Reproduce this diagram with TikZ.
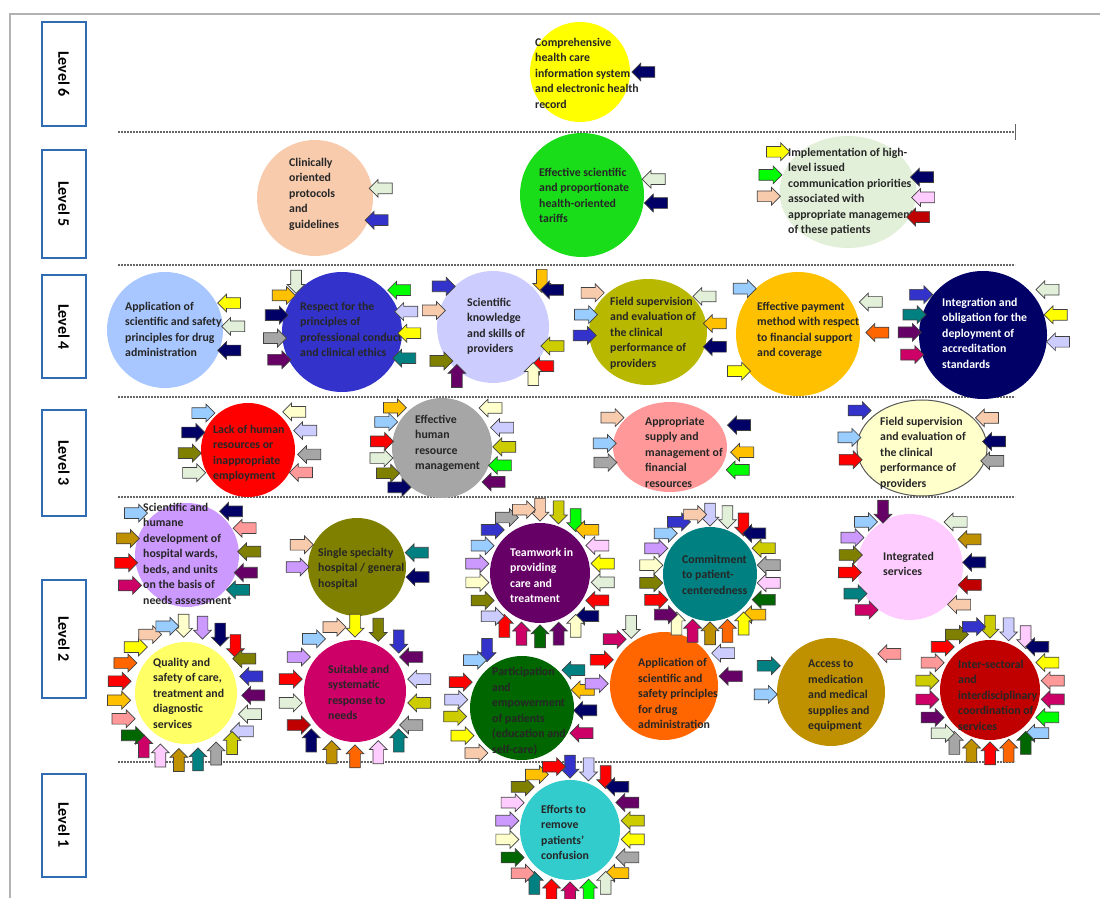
\documentclass[tikz,border=0pt]{standalone}
\usepackage{fontspec}
\setmainfont{Carlito}
\usetikzlibrary{calc,shapes.arrows,shapes.geometric}
% palette
\definecolor{pYel}{HTML}{FFFF00}\definecolor{pGold}{HTML}{FFC000}
\definecolor{pOrange}{HTML}{FF6600}\definecolor{pRed}{HTML}{FF0000}
\definecolor{pDRed}{HTML}{C00000}\definecolor{pNavy}{HTML}{000066}
\definecolor{pBlue}{HTML}{3333CC}\definecolor{pLBlue}{HTML}{99CCFF}
\definecolor{pLav}{HTML}{CCCCFF}\definecolor{pPurple}{HTML}{660066}
\definecolor{pLilac}{HTML}{CC99FF}\definecolor{pPink}{HTML}{FF9999}
\definecolor{pLPink}{HTML}{FFCCFF}\definecolor{pMag}{HTML}{CC0066}
\definecolor{pTeal}{HTML}{008080}\definecolor{pGreen}{HTML}{00FF00}
\definecolor{pDGreen}{HTML}{006600}\definecolor{pOlive}{HTML}{808000}
\definecolor{pOlYel}{HTML}{CCCC00}\definecolor{pGray}{HTML}{A6A6A6}
\definecolor{pPale}{HTML}{E2F0D9}\definecolor{pCream}{HTML}{FFFFCC}
\definecolor{pPeach}{HTML}{F8CBAD}\definecolor{pBrown}{HTML}{BF9000}
\definecolor{lvlblue}{HTML}{2E6DB4}
\tikzset{
  lvl/.style={draw=lvlblue, line width=2pt, rotate=-90, minimum height=44pt, inner sep=0pt, font=\bfseries\fontsize{16}{18}\selectfont},
  bub/.style={circle, inner sep=0pt},
  ebub/.style={ellipse, inner sep=0pt},
  txt/.style={anchor=north west, inner sep=0pt, align=left, text=black!85, font=\bfseries\fontsize{11.8}{15.5}\selectfont},
  blk/.style={single arrow, draw=black!75, line width=0.7pt, inner sep=5pt, minimum height=23pt, single arrow head extend=3.5pt},
  sep/.style={black!60, line width=1.6pt, dash pattern=on 2pt off 1pt}
}
% arrows at angle/distance/colour round a bubble
\newcommand{\arrs}[2]{\foreach \angl/\rr/\col [count=\nn] in {#2}{%
  \pgfmathsetmacro{\dirn}{\angl+180}%
  \node[blk, fill=\col, shape border rotate=\dirn] (#1-\nn) at ($(#1)+(\angl:\rr)$) {};}}
% full ring: bubble, distance, start angle, step, colours
\newcommand{\ring}[5]{\foreach \col [count=\nn] in {#5}{%
  \pgfmathsetmacro{\angl}{#3-(\nn-1)*#4}\pgfmathsetmacro{\dirn}{\angl+180}%
  \node[blk, fill=\col, shape border rotate=\dirn] (#1-\nn) at ($(#1)+(\angl:#2)$) {};}}
\begin{document}
\begin{tikzpicture}[x=1pt,y=1pt]
\useasboundingbox (0,0) rectangle (1100,898);
\draw[gray!60, line width=1.2pt] (10,0) coordinate (fb) -- (10,884) coordinate (ft) -- (1100,884) coordinate (fr);

% levels
\node[lvl, minimum width=104pt] (lv6) at (64,824) {Level 6};
\node[lvl, minimum width=108pt] (lv5) at (64,694) {Level 5};
\node[lvl, minimum width=103pt] (lv4) at (64,571) {Level 4};
\node[lvl, minimum width=105pt] (lv3) at (64,435) {Level 3};
\node[lvl, minimum width=118pt] (lv2) at (64,259) {Level 2};
\node[lvl, minimum width=103pt] (lv1) at (64,73) {Level 1};
\foreach \yy [count=\nn] in {766,633,501,401,136}
  \draw[sep] (118,\yy) coordinate (s\nn l) -- (1015,\yy) coordinate (s\nn r);
\draw[black!60, line width=1pt] ($(s1r)+(0,8)$) -- ($(s1r)+(0,-8)$);

% bubbles
\node[bub, fill=pYel, minimum size=100pt] (c6) at (580,826) {};
\node[bub, fill=pPeach, minimum size=116pt] (c5a) at (315,700) {};
\node[bub, fill=green!85!black!90, minimum size=124pt] (c5b) at (582,703) {};
\node[ebub, fill=pPale, minimum width=137pt, minimum height=112pt] (c5c) at (848,706) {};
\node[bub, fill=pLBlue!85!blue!70, minimum size=116pt] (c4a) at (165,568) {};
\node[bub, fill=pBlue, minimum size=120pt] (c4b) at (342,566) {};
\node[bub, fill=pLav, minimum size=112pt] (c4c) at (493,571) {};
\node[ebub, fill=pOlYel!90!black, minimum width=118pt, minimum height=106pt] (c4d) at (648,566) {};
\node[bub, fill=pGold, minimum size=124pt] (c4e) at (798,564) {};
\node[bub, fill=pNavy, minimum size=128pt] (c4f) at (983,563) {};
\node[bub, fill=pRed, minimum size=94pt] (c3a) at (248,448) {};
\node[bub, fill=pGray, minimum size=100pt] (c3b) at (442,450) {};
\node[ebub, fill=pPink, minimum width=114pt, minimum height=90pt] (c3c) at (670,451) {};
\node[ebub, fill=pCream, draw=black!65, line width=1pt, minimum width=130pt, minimum height=96pt] (c3d) at (922,450) {};
\node[bub, fill=pLilac, minimum size=104pt] (c2a) at (187,343) {};
\node[bub, fill=pOlive, minimum size=98pt] (c2b) at (357,331) {};
\node[bub, fill=pPurple, minimum size=100pt] (c2c) at (540,325) {};
\node[bub, fill=pTeal, minimum size=94pt] (c2d) at (710,324) {};
\node[bub, fill=pLPink, minimum size=106pt] (c2e) at (910,331) {};
\node[bub, fill=pYel!60, minimum size=102pt] (c2f) at (186,205) {};
\node[bub, fill=pMag, minimum size=102pt] (c2g) at (355,207) {};
\node[bub, fill=pDGreen, minimum size=104pt] (c2h) at (522,190) {};
\node[bub, fill=pOrange, minimum size=108pt] (c2i) at (664,212) {};
\node[bub, fill=pBrown, minimum size=108pt] (c2j) at (831,206) {};
\node[bub, fill=pDRed, minimum size=100pt] (c2k) at (990,208) {};
\node[bub, fill=teal!50!cyan!80, minimum size=100pt] (c1) at (570,68) {};

% texts
\node[txt] (t6) at (535,860) {Comprehensive\\health care\\information system\\and electronic health\\record};
\node[txt] (t5a) at (289,740) {Clinically\\oriented\\protocols\\and\\guidelines};
\node[txt] (t5b) at (539,730) {Effective scientific\\and proportionate\\health-oriented\\tariffs};
\node[txt] (t5c) at (788,750) {Implementation of high-\\level issued\\communication priorities\\associated with\\appropriate management\\of these patients};
\node[txt] (t4a) at (125,596) {Application of\\scientific and safety\\principles for drug\\administration};
\node[txt] (t4b) at (300,596) {Respect for the\\principles of\\professional conduct\\and clinical ethics};
\node[txt] (t4c) at (467,600) {Scientific\\knowledge\\and skills of\\providers};
\node[txt] (t4d) at (610,601) {Field supervision\\and evaluation of\\the clinical\\performance of\\providers};
\node[txt] (t4e) at (757,596) {Effective payment\\method with respect\\to financial support\\and coverage};
\node[txt, text=white] (t4f) at (942,600) {Integration and\\obligation for the\\deployment of\\accreditation\\standards};
\node[txt] (t3a) at (213,473) {Lack of human\\resources or\\inappropriate\\employment};
\node[txt] (t3b) at (415,483) {Effective\\human\\resource\\management};
\node[txt] (t3c) at (645,481) {Appropriate\\supply and\\management of\\financial\\resources};
\node[txt] (t3d) at (880,481) {Field supervision\\and evaluation of\\the clinical\\performance of\\providers};
\node[txt] (t2a) at (143,395) {Scientific and\\humane\\development of\\hospital wards,\\beds, and units\\on the basis of\\needs assessment};
\node[txt] (t2b) at (318,350) {Single specialty\\hospital / general\\hospital};
\node[txt, text=white] (t2c) at (510,350) {Teamwork in\\providing\\care and\\treatment};
\node[txt] (t2d) at (682,343) {Commitment\\to patient-\\centeredness};
\node[txt] (t2e) at (883,346) {Integrated\\services};
\node[txt] (t2f) at (153,240) {Quality and\\safety of care,\\treatment and\\diagnostic\\services};
\node[txt] (t2g) at (328,233) {Suitable and\\systematic\\response to\\needs};
\node[txt] (t2h) at (492,231) {Participation\\and\\empowerment\\of patients\\(education and\\self-care)};
\node[txt] (t2i) at (638,240) {Application of\\scientific and\\safety principles\\for drug\\administration};
\node[txt] (t2j) at (808,238) {Access to\\medication\\and medical\\supplies and\\equipment};
\node[txt] (t2k) at (958,238) {Inter-sectoral\\and\\interdisciplinary\\coordination of\\services};
\node[txt] (t1) at (541,93) {Efforts to\\remove\\patients'\\confusion};

% arrows
\arrs{c6}{0/66/pNavy}
\arrs{c5a}{8/69/pPale,-19/68/pBlue}
\arrs{c5b}{12/76/pPale,-6/77/pNavy}
\arrs{c5c}{151/83/pYel,168/82/pGreen,183/82/pPeach,11/78/pNavy,-4/78/pLPink,-19/77/pDRed}
\arrs{c4a}{22/72/pYel,3/71/pPale,-17/70/pNavy}
\arrs{c4b}{131/70/pPale,149/71/pGold,166/70/pNavy,185/70/pGray,203/71/pPurple,35/73/pGreen,17/70/pLav,-1/70/pYel,-22/70/pTeal}
\arrs{c4c}{142/66/pBlue,165/64/pPeach,212/64/pOlive,235/63/pPurple,45/69/pGold,31/72/pNavy,-17/65/pOlYel,-37/65/pRed,-51/64/pCream}
\arrs{c4d}{146/70/pPeach,165/67/pLBlue,183/66/pBlue,31/69/pPale,7/70/pGold,-12/71/pNavy}
\arrs{c4e}{141/72/pLBlue,211/72/pYel,23/82/pPale,1/82/pOrange}
\arrs{c4f}{148/76/pBlue,164/74/pTeal,178/76/pPurple,195/76/pMag,34/81/pPale,15/78/pYel,-5/78/pLav}
\arrs{c3a}{142/60/pLBlue,163/60/pNavy,183/61/pOlive,202/61/pPale,38/62/pCream,18/63/pLav,-4/64/pGray,-22/60/pPink}
\arrs{c3b}{141/64/pGold,156/64/pLBlue,174/63/pRed,189/64/pPale,204/62/pOlive,221/60/pNavy,38/65/pCream,18/66/pLav,1/65/pOlYel,-16/63/pGreen,-32/64/pPurple}
\arrs{c3c}{154/67/pPeach,177/68/pLBlue,193/69/pGray,17/75/pNavy,-4/75/pGold,-18/74/pGreen}
\arrs{c3d}{150/75/pBlue,172/76/pLBlue,189/75/pRed,24/74/pPeach,5/75/pNavy,-10/74/pGray}
\arrs{c2a}{142/68/pLBlue,165/64/pBrown,187/64/pRed,207/67/pMag,43/64/pNavy,24/66/pPink,3/65/pOlive,-16/64/pPurple,-33/64/pTeal}
\arrs{c2b}{159/62/pPeach,180/62/pLilac,13/64/pTeal,-9/64/pNavy}
\arrs{c2e}{115/64/pPurple,136/65/pLBlue,154/67/pLilac,169/63/pOlive,185/63/pRed,205/63/pTeal,223/63/pMag,43/66/pPale,24/68/pBrown,4/67/pNavy,-16/65/pDRed,-36/64/pPeach}
\arrs{c2h}{120/70/pBlue,136/69/pLBlue,158/69/pRed,173/69/pLav,187/70/pOlYel,204/68/pYel,223/66/pPeach,35/66/pTeal,16/66/pGold,-2/66/pNavy,-22/67/pMag}
\arrs{c2i}{118/70/pPale,138/70/pMag,158/70/pRed,178/70/pLilac,28/70/pLav,8/70/pPurple}
\arrs{c2j}{158/70/pTeal,182/68/pLBlue,32/72/pPink}
\ring{c2c}{66}{90}{16.36}{pPeach,pOlYel,pGreen,pGold,pLPink,pYel,pPale,pRed,pNavy,pCream,pPurple,pDGreen,pMag,pRed,pLav,pOlive,pCream,pLilac,pLBlue,pBlue,pGray,pPeach}
\ring{c2d}{62}{90}{16.36}{pLav,pPale,pRed,pNavy,pOlYel,pGray,pLPink,pDGreen,pGold,pYel,pOrange,pBrown,pMag,pCream,pPurple,pRed,pOlive,pCream,pLilac,pLBlue,pBlue,pPeach}
\ring{c2f}{70}{92}{15.65}{pCream,pLilac,pNavy,pRed,pOlive,pBlue,pPurple,pPale,pLav,pOlYel,pGray,pTeal,pBrown,pLPink,pMag,pDGreen,pPink,pGold,pRed,pOrange,pYel,pPeach,pLBlue}
\ring{c2g}{68}{90}{20}{pYel,pOlive,pBlue,pPurple,pLav,pOlYel,pGray,pTeal,pLPink,pOrange,pBrown,pNavy,pDRed,pPale,pRed,pLilac,pLBlue,pPeach}
\ring{c2k}{66}{90}{16.36}{pOlYel,pLav,pLPink,pNavy,pYel,pPink,pMag,pGreen,pLBlue,pDGreen,pOrange,pRed,pBrown,pGray,pPale,pPurple,pMag,pOlYel,pPink,pRed,pOlive,pBlue}
\ring{c1}{66}{90}{16.36}{pBlue,pLav,pRed,pNavy,pPurple,pOlYel,pYel,pGray,pGold,pPale,pGreen,pMag,pRed,pTeal,pPink,pDGreen,pCream,pLilac,pLPink,pOlive,pGold,pRed}
\end{tikzpicture}
\end{document}
